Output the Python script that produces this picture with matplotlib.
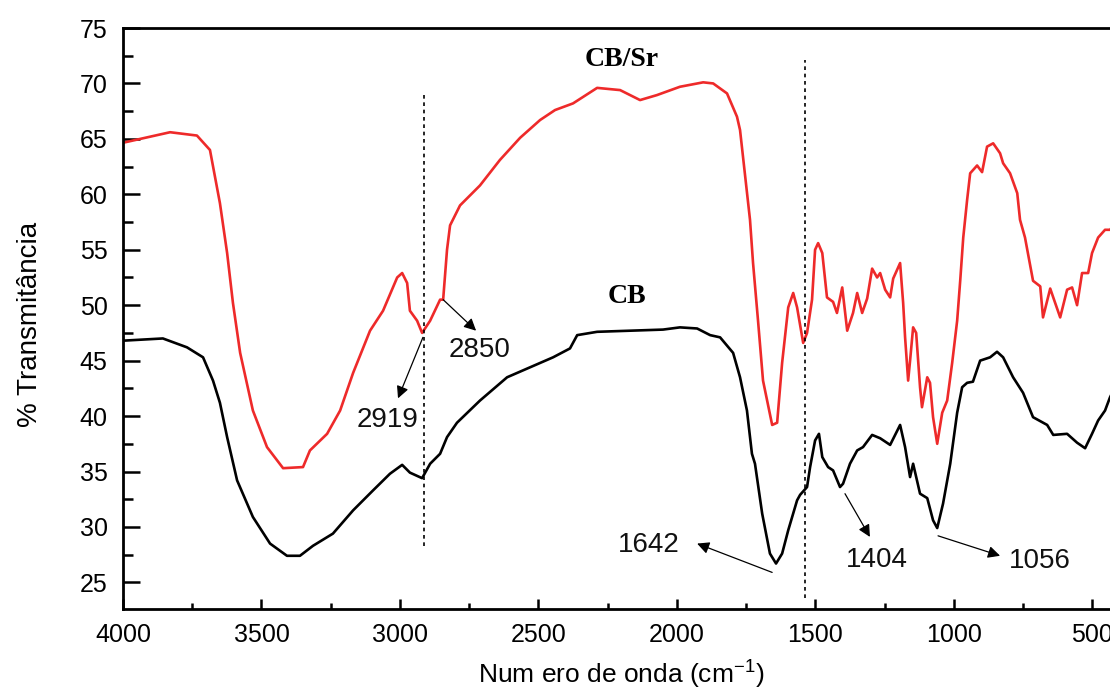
import matplotlib
matplotlib.use("Agg")
import matplotlib.pyplot as plt
from matplotlib.ticker import MultipleLocator

# --- DATA ---
# CB/Sr spectrum (red)
red_wn = [4000, 3830, 3733, 3686, 3650, 3624, 3603, 3577, 3531, 3480, 3422, 3350, 3325, 3263,
          3216, 3169, 3108, 3061, 3010, 2992, 2974, 2964, 2938, 2920, 2891, 2855, 2844, 2830,
          2819, 2783, 2711, 2639, 2566, 2494, 2440, 2375, 2288, 2205, 2133, 2072, 1989, 1905,
          1869, 1819, 1783, 1772, 1736, 1725, 1707, 1689, 1656, 1638, 1620, 1598, 1580, 1566,
          1544, 1530, 1512, 1501, 1490, 1475, 1458, 1436, 1422, 1403, 1385, 1364, 1349, 1331,
          1313, 1295, 1277, 1266, 1248, 1230, 1219, 1194, 1183, 1176, 1165, 1158, 1147, 1136,
          1122, 1115, 1096, 1086, 1075, 1060, 1042, 1024, 1006, 988, 977, 966, 952, 941, 916,
          898, 880, 858, 833, 822, 797, 771, 761, 743, 714, 688, 678, 652, 641, 616, 591, 573,
          555, 537, 515, 501, 479, 454, 436, 420]
red_t = [64.65, 65.6, 65.3, 64.0, 59.2, 54.7, 50.2, 45.7, 40.5, 37.2, 35.3, 35.4, 36.9, 38.4,
         40.5, 43.9, 47.7, 49.5, 52.5, 52.9, 52.0, 49.5, 48.6, 47.5, 48.6, 50.5, 50.5, 55.0,
         57.2, 59.0, 60.8, 63.1, 65.1, 66.7, 67.6, 68.2, 69.6, 69.4, 68.5, 68.95, 69.7, 70.1,
         70.0, 69.1, 67.0, 65.8, 57.7, 53.8, 48.6, 43.2, 39.2, 39.4, 44.8, 49.8, 51.1, 49.8,
         46.6, 47.5, 50.5, 55.0, 55.6, 54.7, 50.7, 50.3, 49.3, 51.6, 47.7, 49.3, 51.1, 49.3,
         50.6, 53.3, 52.5, 52.9, 51.4, 50.7, 52.4, 53.8, 50.2, 47.1, 43.2, 45.0, 48.0, 47.5,
         42.6, 40.8, 43.5, 43.0, 39.9, 37.5, 40.3, 41.4, 44.8, 48.6, 52.2, 56.1, 59.5, 61.9,
         62.6, 62.0, 64.3, 64.6, 63.7, 62.8, 61.9, 60.1, 57.7, 56.1, 52.2, 51.7, 48.9, 51.5,
         50.7, 48.9, 51.4, 51.6, 50.0, 52.9, 52.9, 54.7, 56.1, 56.8, 56.8, 57.3]

# CB spectrum (black)
blk_wn = [4000, 3856, 3769, 3711, 3675, 3650, 3624, 3588, 3531, 3469, 3408, 3361, 3314, 3242,
          3169, 3097, 3036, 2992, 2964, 2920, 2891, 2855, 2830, 2794, 2711, 2613, 2530, 2447,
          2386, 2360, 2288, 2169, 2050, 1989, 1927, 1880, 1844, 1797, 1772, 1747, 1729, 1718,
          1692, 1664, 1642, 1620, 1598, 1566, 1555, 1530, 1519, 1501, 1487, 1475, 1454, 1436,
          1411, 1400, 1375, 1349, 1328, 1295, 1266, 1230, 1194, 1176, 1158, 1147, 1122, 1096,
          1075, 1060, 1039, 1013, 988, 970, 952, 931, 905, 869, 844, 822, 786, 750, 714, 663,
          641, 591, 555, 526, 501, 479, 454, 436, 420]
blk_t = [46.8, 47.0, 46.2, 45.3, 43.2, 41.2, 38.1, 34.2, 30.9, 28.5, 27.4, 27.4, 28.3, 29.4,
         31.5, 33.3, 34.8, 35.6, 34.9, 34.4, 35.7, 36.6, 38.1, 39.4, 41.4, 43.5, 44.4, 45.3,
         46.1, 47.3, 47.6, 47.7, 47.8, 48.0, 47.9, 47.3, 47.1, 45.7, 43.5, 40.5, 36.6, 35.7,
         31.2, 27.6, 26.7, 27.6, 29.7, 32.4, 32.9, 33.6, 35.4, 37.8, 38.4, 36.3, 35.4, 35.1,
         33.6, 33.9, 35.7, 36.9, 37.2, 38.3, 38.0, 37.4, 39.2, 37.2, 34.5, 35.7, 33.0, 32.6,
         30.6, 29.9, 32.1, 35.7, 40.3, 42.6, 43.0, 43.1, 45.0, 45.3, 45.8, 45.3, 43.5, 42.1,
         39.9, 39.2, 38.3, 38.4, 37.6, 37.1, 38.4, 39.6, 40.5, 41.7, 42.5]

# peak labels: text, arrow tail (on curve), arrow head, text position
peak_labels = ["2850", "2919", "1642", "1404", "1056"]
peak_tail = [(2844, 50.5), (2917, 47.1), (1656, 25.9), (1393, 33.0), (1057, 29.2)]
peak_head = [(2725, 47.7), (3007, 41.6), (1927, 28.5), (1303, 29.1), (833, 27.4)]
peak_text = [(2711, 45.3), (3043, 39.0), (2101, 27.7), (1277, 26.4), (689, 26.3)]

# dotted guide lines: wavenumber, y from, y to
guide_wn = [2913, 1537]
guide_y0 = [28.3, 23.6]
guide_y1 = [69.2, 72.1]

plt.rcParams['font.family'] = ['Liberation Sans', 'DejaVu Sans']
plt.rcParams['mathtext.default'] = 'regular'

fig = plt.figure(figsize=(11.1, 6.94), dpi=100)
ax = fig.add_axes([123 / 1110, 85 / 694, 997 / 1110, 581 / 694])

ax.plot(red_wn, red_t, color='#ee2a2a', lw=1.9)
ax.plot(blk_wn, blk_t, color='black', lw=1.9)

for wn, y0, y1 in zip(guide_wn, guide_y0, guide_y1):
    ax.plot([wn, wn], [y0, y1], color='black', lw=1.2, linestyle=(0, (2.2, 2.2)))

for lab, tail, head, pos in zip(peak_labels, peak_tail, peak_head, peak_text):
    ax.annotate("", xy=head, xytext=tail,
                arrowprops=dict(arrowstyle='-|>', color='black', lw=0.9,
                                mutation_scale=18, shrinkA=0, shrinkB=0))
    ax.text(pos[0], pos[1], lab, fontsize=20, ha='center', va='baseline', color='#111111')

ax.text(2198, 71.6, "CB/Sr", family=['Liberation Serif'], fontweight='bold',
        fontsize=20, ha='center', va='baseline')
ax.text(2180, 50.2, "CB", family=['Liberation Serif'], fontweight='bold',
        fontsize=20, ha='center', va='baseline')

ax.set_xlim(4000, 400)
ax.set_ylim(22.6, 75)
ax.xaxis.set_major_locator(MultipleLocator(500))
ax.xaxis.set_minor_locator(MultipleLocator(250))
ax.yaxis.set_major_locator(MultipleLocator(5))
ax.yaxis.set_minor_locator(MultipleLocator(2.5))
ax.set_yticks(range(25, 80, 5))

ax.tick_params(axis='x', which='major', direction='in', length=7, width=1.8, pad=10, labelsize=18)
ax.tick_params(axis='x', which='minor', direction='in', length=4, width=1.8)
ax.tick_params(axis='y', which='major', direction='in', length=12, width=1.8, pad=11, labelsize=18)
ax.tick_params(axis='y', which='minor', direction='in', length=7, width=1.8)
for sp in ax.spines.values():
    sp.set_linewidth(2.0)

ax.set_ylabel("% Transmitância", fontsize=20)
ax.yaxis.set_label_coords(-0.08, 0.49)
fig.text(621 / 1110, 0.004, "Num ero de onda (cm$^{-1}$)", fontsize=19,
         ha='center', va='bottom')

fig.savefig("out.png", dpi=100)
